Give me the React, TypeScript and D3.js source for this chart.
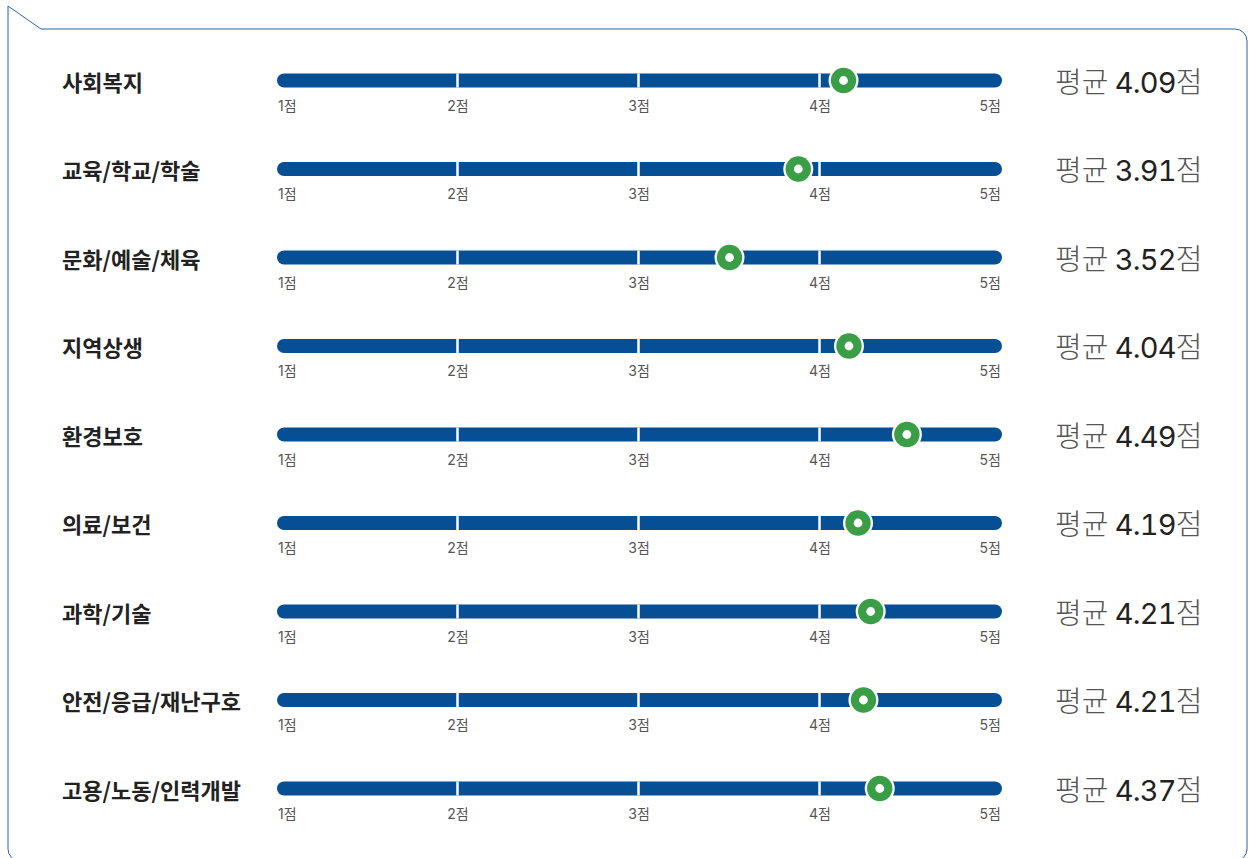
import React from "react";
import * as d3 from "d3";

const categories = [
  "사회복지",
  "교육/학교/학술",
  "문화/예술/체육",
  "지역상생",
  "환경보호",
  "의료/보건",
  "과학/기술",
  "안전/응급/재난구호",
  "고용/노동/인력개발",
];
const averages = [4.09, 3.91, 3.52, 4.04, 4.49, 4.19, 4.21, 4.21, 4.37];
// marker positions as drawn in the reference
const markerValues = [4.13, 3.88, 3.5, 4.16, 4.48, 4.21, 4.28, 4.24, 4.33];
const tickValues = [1, 2, 3, 4, 5];
const tickLabels = ["1점", "2점", "3점", "4점", "5점"];

const W = 1255;
const H = 858;

export default function App() {
  const x = d3.scaleLinear().domain([1, 5]).range([277, 1001]);
  const y = d3
    .scalePoint<string>()
    .domain(categories)
    .range([80.5, 788.5]);

  const barH = 14;
  const border = `M8,6 L41,29 H1235 A12,12 0 0 1 1247,41 V849 A12,12 0 0 1 1235,861 H20 A12,12 0 0 1 8,849 Z`;

  return (
    <svg
      width={W}
      height={H}
      style={{ position: "absolute", left: 0, top: 0, display: "block" }}
      fontFamily="Inter, 'Noto Sans CJK KR', sans-serif"
    >
      <rect width={W} height={H} fill="#fff" />
      <path d={border} fill="none" stroke="#2a62a6" strokeWidth={1} />
      {categories.map((c, i) => {
        const cy = y(c) as number;
        const mx = x(markerValues[i]);
        return (
          <g key={c}>
            <text
              x={62}
              y={cy + 10}
              fontSize={22}
              fontWeight={700}
              fill="#222"
              fontFamily="'Noto Sans CJK KR', sans-serif"
            >
              {c}
            </text>
            <rect
              x={x(1)}
              y={cy - barH / 2}
              width={x(5) - x(1) + 1}
              height={barH}
              rx={barH / 2}
              fill="#074f94"
            />
            {tickValues.slice(1, -1).map((t) => (
              <line
                key={t}
                x1={x(t) - 0.5}
                x2={x(t) - 0.5}
                y1={cy - barH / 2}
                y2={cy + barH / 2}
                stroke="#fff"
                strokeWidth={2.5}
              />
            ))}
            {tickValues.map((t, k) => (
              <text
                key={t}
                x={k === 0 ? x(t) + 1 : x(t)}
                y={cy + 30}
                fontSize={14}
                fill="#555"
                textAnchor={k === 0 ? "start" : k === tickValues.length - 1 ? "end" : "middle"}
              >
                {tickLabels[k]}
              </text>
            ))}
            <circle cx={mx} cy={cy} r={15} fill="#fff" />
            <circle cx={mx} cy={cy} r={12.7} fill="#3a9e46" />
            <circle cx={mx} cy={cy} r={4.4} fill="#fff" />
            <text x={1055} y={cy + 12} fontSize={29}>
              <tspan fill="#555" fontFamily="'Noto Sans CJK KR', sans-serif" fontWeight={300}>
                평균{" "}
              </tspan>
              <tspan
                fill="#222"
                fontWeight={400}
                fontSize={29}
                letterSpacing={-0.8}
                style={{ fontVariantNumeric: "tabular-nums" }}
              >
                {averages[i].toFixed(2)}
              </tspan>
              <tspan fill="#555" fontFamily="'Noto Sans CJK KR', sans-serif" fontWeight={300}>
                점
              </tspan>
            </text>
          </g>
        );
      })}
    </svg>
  );
}
